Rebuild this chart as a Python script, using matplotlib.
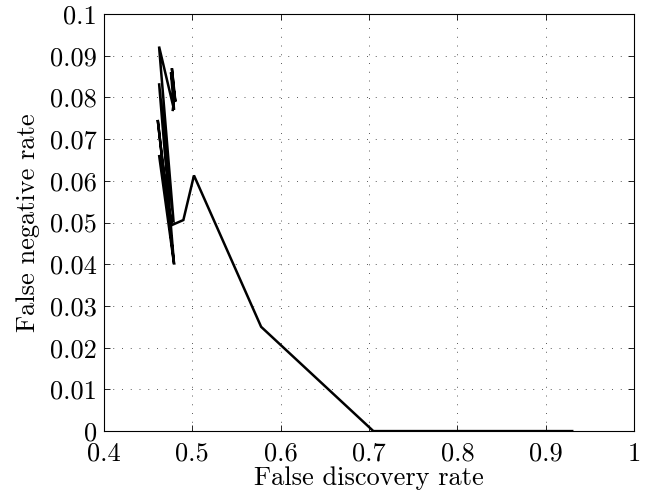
import numpy as np
import matplotlib
matplotlib.use('Agg')
import matplotlib.pyplot as plt

# curve (false discovery rate, false negative rate)
fdr = [0.930, 0.705, 0.578, 0.502, 0.490, 0.477, 0.4625, 0.4795,
       0.4610, 0.4795, 0.4625, 0.4790, 0.4625, 0.4795, 0.4760, 0.4810,
       0.4770, 0.4800, 0.4780]
fnr = [0.000, 0.000, 0.025, 0.0613, 0.0506, 0.0494, 0.0662, 0.0400,
       0.0746, 0.0400, 0.0834, 0.0500, 0.0922, 0.0770, 0.0860, 0.0790,
       0.0870, 0.0800, 0.0770]

xticks = [0.4, 0.5, 0.6, 0.7, 0.8, 0.9, 1.0]
xticklabels = ['0.4', '0.5', '0.6', '0.7', '0.8', '0.9', '1']
yticks = [0, 0.01, 0.02, 0.03, 0.04, 0.05, 0.06, 0.07, 0.08, 0.09, 0.1]
yticklabels = ['0', '0.01', '0.02', '0.03', '0.04', '0.05', '0.06',
               '0.07', '0.08', '0.09', '0.1']


def main():
    plt.rcParams['font.family'] = ['cmr10', 'DejaVu Serif']
    plt.rcParams['axes.formatter.use_mathtext'] = True

    fig = plt.figure(figsize=(6.53, 4.91), dpi=100)
    ax = fig.add_axes([0.159, 0.122, 0.812, 0.8495])

    ax.plot(fdr, fnr, color='black', lw=1.8, solid_joinstyle='miter')

    ax.set_xlim(0.4, 1.0)
    ax.set_ylim(0, 0.1)
    ax.set_xticks(xticks)
    ax.set_xticklabels(xticklabels)
    ax.set_yticks(yticks)
    ax.set_yticklabels(yticklabels)

    # matlab style: ticks inside on every side, dotted grid
    ax.tick_params(direction='in', top=True, right=True, length=4,
                   width=0.6, labelsize=19)
    ax.tick_params(axis='x', pad=8)
    ax.tick_params(axis='y', pad=5)
    ax.grid(True, linestyle=(0, (1, 8)), color='0.35', lw=0.7)
    for sp in ax.spines.values():
        sp.set_linewidth(0.8)

    ax.set_xlabel('False discovery rate', fontsize=19, labelpad=0)
    ax.set_ylabel('False negative rate', fontsize=19, labelpad=7)

    fig.savefig('out.png', dpi=100)


if __name__ == '__main__':
    main()
